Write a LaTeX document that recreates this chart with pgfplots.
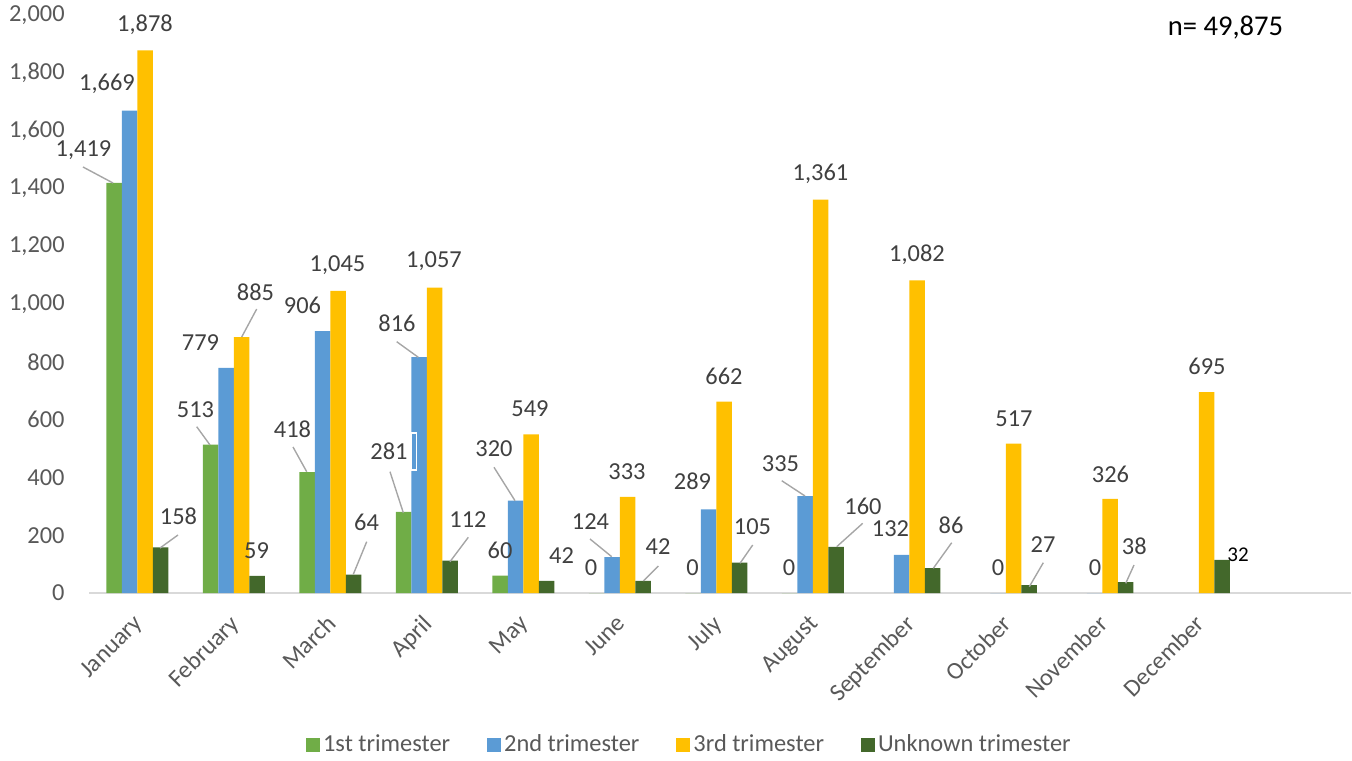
\documentclass[border=0pt]{standalone}
\usepackage{fontspec}
\setmainfont{Carlito}
\usepackage{pgfplots}
\pgfplotsset{compat=1.18}
\definecolor{cg}{HTML}{70AD47}
\definecolor{cb}{HTML}{5B9BD5}
\definecolor{cy}{HTML}{FFC000}
\definecolor{cd}{HTML}{43682B}
\definecolor{lblc}{HTML}{404040}
\definecolor{tickc}{HTML}{595959}
\definecolor{leadc}{HTML}{A6A6A6}
\definecolor{axc}{HTML}{D9D9D9}
\newcommand{\lf}{\fontsize{12.2pt}{14pt}\selectfont}
\newcommand{\lb}[3]{\node[lbl] at (#1,#2) {#3};}
\newcommand{\ld}[4]{\draw[leadc, line width=0.7pt] (#1,#2) -- (#3,#4);}
\begin{document}
\begin{tikzpicture}
\path[use as bounding box] (0,0) rectangle (676pt,380pt);
\begin{axis}[
  at={(44.5pt,83.5pt)}, anchor=south west,
  scale only axis, width=627.25pt, height=289pt,
  ybar=0pt, bar width=7.75pt,
  xmin=-0.5, xmax=12.5, ymin=0, ymax=2000,
  ytick={0,200,...,2000},
  xtick={0,...,11},
  xticklabels={January,February,March,April,May,June,July,August,September,October,November,December},
  axis x line=bottom, axis y line=left,
  y axis line style={draw=none},
  x axis line style={draw=axc, line width=1pt, -, shorten >=-3.5pt},
  major tick length=0pt, tick style={draw=none},
  /pgf/number format/assume math mode=true,
  /pgf/number format/1000 sep={,},
  ticklabel style={font=\lf, text=tickc},
  yticklabel style={anchor=east, inner sep=0pt, xshift=-12pt},
  xticklabel style={xshift=-2.5pt, yshift=-10pt, rotate=45, anchor=north east, inner sep=0pt},
  legend columns=4,
  legend image code/.code={\fill[#1] (0pt,-3.5pt) rectangle (7pt,3.5pt);},
  legend style={at={(0.479,-0.263)}, anchor=center, draw=none, font=\lf, text=tickc,
    nodes={inner sep=1.5pt},
    /tikz/every even column/.append style={column sep=17pt}},
  clip=false,
]
\addplot[fill=cg, draw=none] coordinates {(0,1419) (1,513) (2,418) (3,281) (4,60) (5,0) (6,0) (7,0)};
\addplot[fill=cb, draw=none] coordinates {(0,1669) (1,779) (2,906) (3,816) (4,320) (5,124) (6,289) (7,335) (8,132) (9,0) (10,0)};
\addplot[fill=cy, draw=none] coordinates {(0,1878) (1,885) (2,1045) (3,1057) (4,549) (5,333) (6,662) (7,1361) (8,1082) (9,517) (10,326) (11,695)};
\addplot[fill=cd, draw=none] coordinates {(0,158) (1,59) (2,64) (3,112) (4,42) (5,42) (6,105) (7,160) (8,86) (9,27) (10,38) (11,115)};
\legend{1st trimester, 2nd trimester, 3rd trimester, Unknown trimester}
\end{axis}
\begin{scope}[x=0.5pt, y=-0.5pt, yshift=380pt, lbl/.style={font=\lf, text=lblc, inner sep=0pt, anchor=center}]
\draw[white, line width=0.7pt] (411,433) rectangle (416.7,470);
\lb{83.5}{150}{1,419}\ld{83}{167}{113}{183}
\lb{107}{84}{1,669}
\lb{145}{25}{1,878}
\lb{178.5}{516}{158}\ld{178}{535}{160}{548}
\lb{195.5}{409.5}{513}\ld{196.7}{426.7}{210}{445}
\lb{200.5}{342.5}{779}
\lb{255.5}{292.5}{885}\ld{256.7}{309}{241.7}{337}
\lb{256.5}{550.5}{59}
\lb{292.5}{429.5}{418}\ld{293}{447}{306.7}{471.7}
\lb{302.5}{305.5}{906}
\lb{337.5}{265.5}{1,045}
\lb{366.5}{522.5}{64}\ld{366.7}{541.7}{353.3}{574.3}
\lb{389}{451.5}{281}\ld{390}{471.7}{403.3}{512.7}
\lb{397}{323.5}{816}\ld{396.7}{341.7}{418.3}{357.3}
\lb{434}{261.5}{1,057}
\lb{468}{520}{112}\ld{468.3}{537.3}{450}{561.7}
\lb{500}{550.5}{60}
\lb{494}{449}{320}\ld{494}{467.3}{515}{500.7}
\lb{530}{409}{549}
\lb{561.5}{555.5}{42}
\lb{591}{567.5}{0}
\lb{590.5}{521.5}{124}\ld{590}{539}{611.7}{556.7}
\lb{627}{471.5}{333}
\lb{658}{547}{42}\ld{658.3}{566}{643.3}{581}
\lb{692.5}{567.5}{0}
\lb{692.5}{481.5}{289}
\lb{724}{376.5}{662}
\lb{752.5}{526.5}{105}\ld{752.7}{545}{740}{563.3}
\lb{789}{567.5}{0}
\lb{780.5}{463.5}{335}\ld{781.7}{480.7}{805}{496}
\lb{820.5}{173.5}{1,361}
\lb{863}{506.5}{160}\ld{862.7}{523.3}{836.7}{546.7}
\lb{890.5}{529}{132}
\lb{917}{255}{1,082}
\lb{951}{525}{86}\ld{951.7}{542.7}{933.3}{568.3}
\lb{998}{567.5}{0}
\lb{1014}{418.7}{517}
\lb{1043}{545}{27}\ld{1043.3}{562.7}{1029.3}{586.7}
\lb{1095}{567.5}{0}
\lb{1110.5}{474.7}{326}
\lb{1134.3}{546.7}{38}\ld{1134}{565}{1125.7}{583.3}
\lb{1207}{366.5}{695}
\node[font=\fontsize{10.5pt}{12pt}\selectfont, text=black, inner sep=0pt] at (1238,555) {32};
\node[font=\fontsize{14.3pt}{17pt}\selectfont, text=black, inner sep=0pt] at (1225.5,27.5) {n= 49,875};
\end{scope}
\end{tikzpicture}
\end{document}
